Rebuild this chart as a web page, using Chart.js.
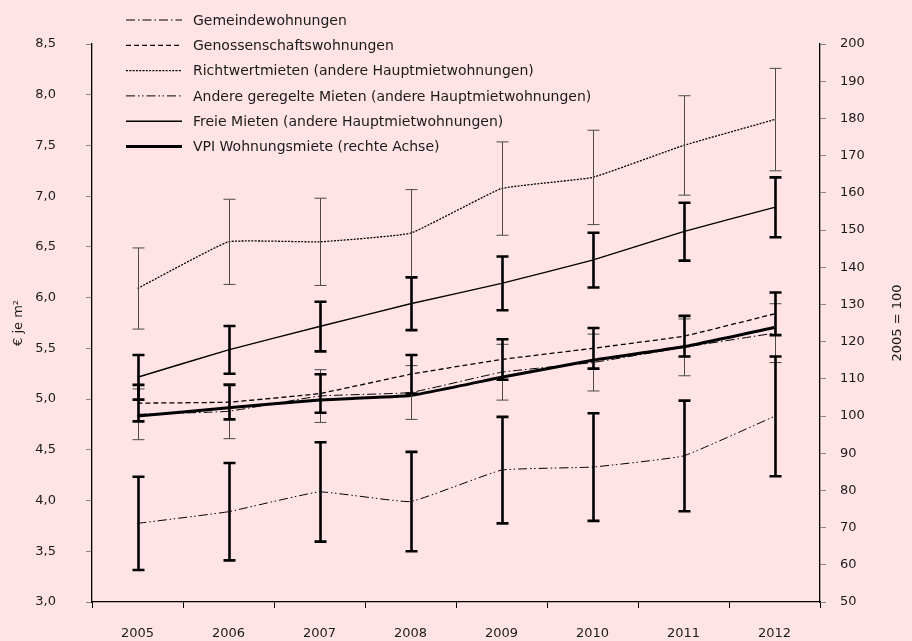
<!DOCTYPE html>
<html><head><meta charset="utf-8">
<script src="https://cdn.jsdelivr.net/npm/chart.js@4/dist/chart.umd.min.js"></script>
<style>html,body{margin:0;padding:0;background:#FFE3E5;} canvas{display:block}</style>
</head><body>
<canvas id="c" width="912" height="641"></canvas>
<script>
const categories = ['2005','2006','2007','2008','2009','2010','2011','2012'];

const gemeinde        = [4.85, 4.88, 5.03, 5.065, 5.265, 5.36, 5.51, 5.65];
const gemeindeErr     = [0.25, 0.27, 0.26, 0.265, 0.275, 0.28, 0.28, 0.29];
const genossenschaft  = [4.96, 4.97, 5.055, 5.245, 5.39, 5.50, 5.62, 5.84];
const genossErr       = [0.18, 0.17, 0.19, 0.19, 0.20, 0.20, 0.20, 0.21];
const richtwert       = [6.09, 6.55, 6.55, 6.635, 7.075, 7.185, 7.50, 7.755];
const richtwertErr    = [0.40, 0.42, 0.43, 0.43, 0.46, 0.465, 0.49, 0.505];
const andereGeregelt  = [3.775, 3.89, 4.085, 3.99, 4.30, 4.33, 4.44, 4.83];
const andereErr       = [0.46, 0.48, 0.49, 0.49, 0.525, 0.53, 0.545, 0.59];
const freieMieten     = [5.215, 5.485, 5.715, 5.94, 6.14, 6.37, 6.65, 6.89];
const freieErr        = [0.22, 0.235, 0.245, 0.26, 0.265, 0.27, 0.285, 0.295];
const vpiWohnung      = [100, 102.2, 104.3, 105.5, 110.4, 115.0, 118.6, 123.8];

const seriesLabels = [
  'Gemeindewohnungen',
  'Genossenschaftswohnungen',
  'Richtwertmieten (andere Hauptmietwohnungen)',
  'Andere geregelte Mieten (andere Hauptmietwohnungen)',
  'Freie Mieten (andere Hauptmietwohnungen)',
  'VPI Wohnungsmiete (rechte Achse)'
];
const leftAxisTitle = '€ je m²';
const rightAxisTitle = '2005 = 100';

const FONT = '"DejaVu Sans", sans-serif';
const BG = '#FFE3E5';

const bgPlugin = {
  id: 'bg',
  beforeDraw(chart) {
    const ctx = chart.ctx;
    ctx.save();
    ctx.fillStyle = BG;
    ctx.fillRect(0, 0, chart.width, chart.height);
    ctx.restore();
  }
};

const errorBarPlugin = {
  id: 'errbars',
  afterDatasetsDraw(chart) {
    const ctx = chart.ctx;
    const xs = chart.scales.x;
    chart.data.datasets.forEach(ds => {
      if (!ds.errors) return;
      const ys = chart.scales[ds.yAxisID];
      const thick = ds.errStyle === 'thick';
      ctx.save();
      ctx.setLineDash([]);
      ctx.strokeStyle = thick ? '#000' : '#4a4a4a';
      ctx.lineWidth = thick ? 2.6 : 1;
      ds.data.forEach((v, i) => {
        const e = ds.errors[i];
        const px = Math.round(xs.getPixelForValue(i)) + 0.5;
        const t = ys.getPixelForValue(v + e);
        const b = ys.getPixelForValue(v - e);
        ctx.beginPath();
        ctx.moveTo(px, t); ctx.lineTo(px, b);
        ctx.moveTo(px - 6, t); ctx.lineTo(px + 6, t);
        ctx.moveTo(px - 6, b); ctx.lineTo(px + 6, b);
        ctx.stroke();
      });
      ctx.restore();
    });
  }
};

const legendPlugin = {
  id: 'customLegend',
  afterDraw(chart) {
    const ctx = chart.ctx;
    ctx.save();
    chart.data.datasets.forEach((ds, i) => {
      const y = 20 + i * 25.3;
      ctx.beginPath();
      ctx.setLineDash(ds.borderDash || []);
      ctx.lineWidth = ds.borderWidth;
      ctx.strokeStyle = ds.borderColor;
      ctx.moveTo(126, y); ctx.lineTo(182, y);
      ctx.stroke();
      ctx.setLineDash([]);
      ctx.fillStyle = '#1a1a1a';
      ctx.font = '14px ' + FONT;
      ctx.textBaseline = 'middle';
      ctx.textAlign = 'left';
      ctx.fillText(ds.label, 193, y + 1);
    });
    ctx.restore();
  }
};

const axisTitlePlugin = {
  id: 'axisTitles',
  afterDraw(chart) {
    const ctx = chart.ctx;
    const ca = chart.chartArea;
    const cy = (ca.top + ca.bottom) / 2;
    ctx.save();
    ctx.fillStyle = '#1a1a1a';
    ctx.font = '13px ' + FONT;
    ctx.textAlign = 'center';
    ctx.textBaseline = 'middle';
    [[19, leftAxisTitle], [898, rightAxisTitle]].forEach(([x, t]) => {
      ctx.save();
      ctx.translate(x, cy);
      ctx.rotate(-Math.PI / 2);
      ctx.fillText(t, 0, 0);
      ctx.restore();
    });
    ctx.restore();
  }
};

const common = { pointRadius: 0, pointHoverRadius: 0, fill: false, tension: 0.1, borderColor: '#000', backgroundColor: '#000' };

new Chart(document.getElementById('c'), {
  type: 'line',
  data: {
    labels: categories,
    datasets: [
      { ...common, label: seriesLabels[0], data: gemeinde, errors: gemeindeErr, errStyle: 'thin', yAxisID: 'y', borderWidth: 1, borderDash: [9, 3, 1.5, 3] },
      { ...common, label: seriesLabels[1], data: genossenschaft, errors: genossErr, errStyle: 'thick', yAxisID: 'y', borderWidth: 1.3, borderDash: [5, 3] },
      { ...common, label: seriesLabels[2], data: richtwert, errors: richtwertErr, errStyle: 'thin', yAxisID: 'y', borderWidth: 1.3, borderDash: [2, 1.3] },
      { ...common, label: seriesLabels[3], data: andereGeregelt, errors: andereErr, errStyle: 'thick', yAxisID: 'y', borderWidth: 1, borderDash: [9, 3, 1.5, 2.5, 1.5, 3] },
      { ...common, label: seriesLabels[4], data: freieMieten, errors: freieErr, errStyle: 'thick', yAxisID: 'y', borderWidth: 1.4 },
      { ...common, label: seriesLabels[5], data: vpiWohnung, yAxisID: 'y2', borderWidth: 3 }
    ]
  },
  options: {
    responsive: false,
    animation: false,
    devicePixelRatio: 1,
    layout: { padding: { top: 44, left: 0, right: 0, bottom: 0 } },
    plugins: { legend: { display: false }, tooltip: { enabled: false }, title: { display: false } },
    scales: {
      x: {
        type: 'category',
        offset: true,
        grid: { offset: true, drawOnChartArea: false, tickLength: 6, color: '#000' },
        border: { color: '#000', width: 1.3 },
        ticks: { font: { family: FONT, size: 13 }, color: '#1a1a1a', padding: 18, maxRotation: 0, autoSkip: false },
        afterFit(s) { s.height = 39; }
      },
      y: {
        position: 'left',
        min: 3, max: 8.5,
        grid: { drawOnChartArea: false, tickLength: 6, color: '#888' },
        border: { color: '#000', width: 1.3 },
        ticks: { stepSize: 0.5, padding: 30, font: { family: FONT, size: 13 }, color: '#1a1a1a',
                 callback: v => v.toFixed(1).replace('.', ',') },
        afterFit(s) { s.width = 92; }
      },
      y2: {
        position: 'right',
        min: 50, max: 200,
        grid: { drawOnChartArea: false, tickLength: 6, color: '#888' },
        border: { color: '#000', width: 1.3 },
        ticks: { stepSize: 10, padding: 14, font: { family: FONT, size: 13 }, color: '#1a1a1a' },
        afterFit(s) { s.width = 92; }
      }
    }
  },
  plugins: [bgPlugin, errorBarPlugin, legendPlugin, axisTitlePlugin]
});
</script>
</body></html>
